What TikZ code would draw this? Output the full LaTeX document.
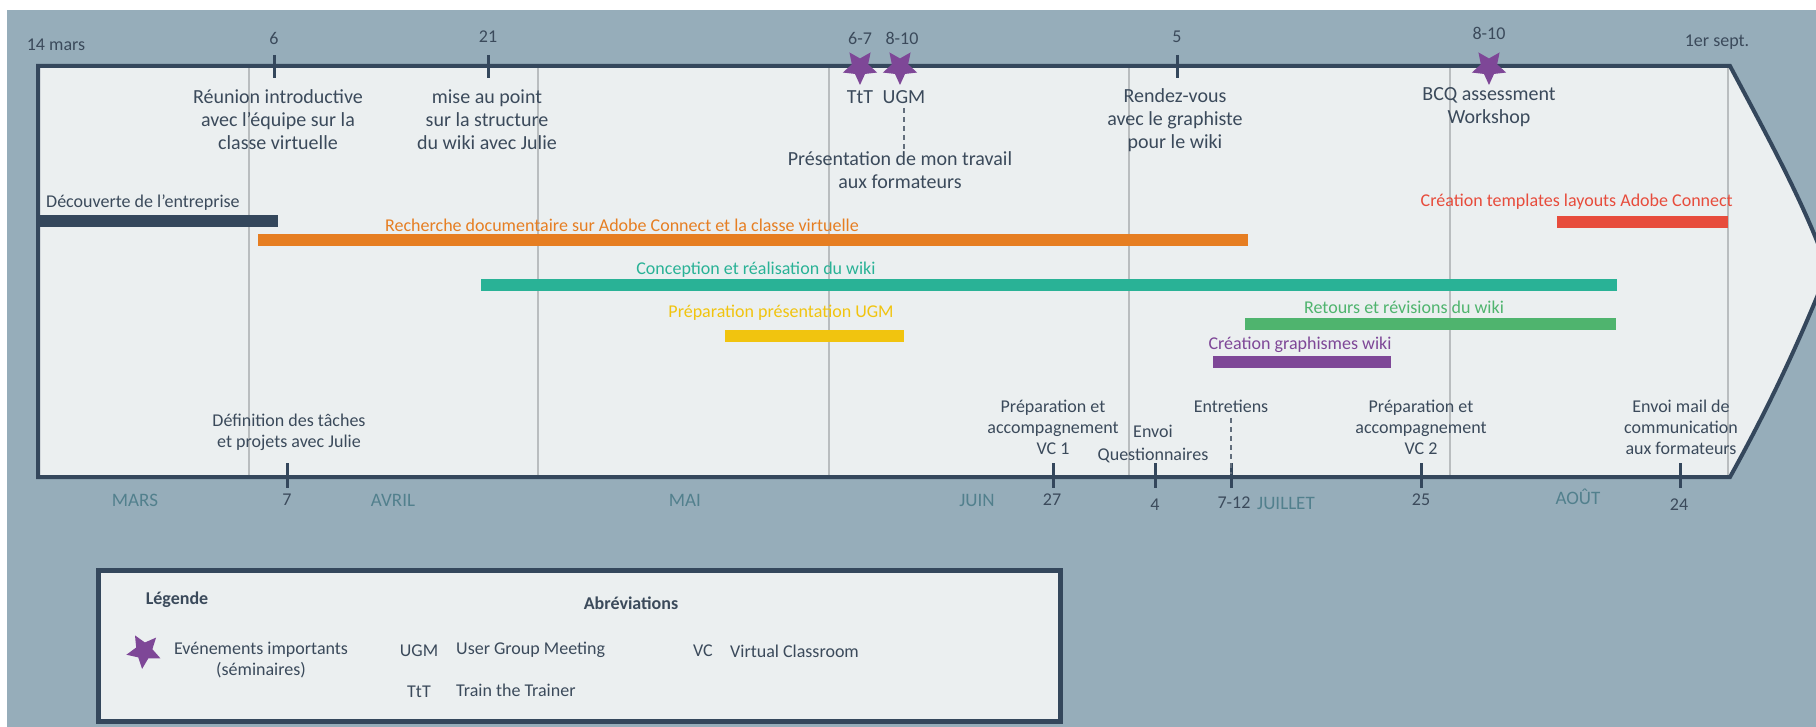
\documentclass[tikz,border=0pt]{standalone}
\usepackage{fontspec}
\setmainfont{Carlito}
\usetikzlibrary{shapes.geometric}
\definecolor{bgc}{HTML}{96ADBA}
\definecolor{panelc}{HTML}{EBEFF0}
\definecolor{navy}{HTML}{34475C}
\definecolor{txt}{HTML}{3B4A5B}
\definecolor{divc}{HTML}{B9BDBF}
\definecolor{monthc}{HTML}{52808D}
\definecolor{orangec}{HTML}{E67E22}
\definecolor{tealc}{HTML}{29B296}
\definecolor{yellowc}{HTML}{F1C40F}
\definecolor{greenc}{HTML}{4FB46E}
\definecolor{purplec}{HTML}{7E4797}
\definecolor{redc}{HTML}{E74C3C}
\begin{document}
\begin{tikzpicture}[x=1pt,y=-1pt,
 toplbl/.style={text=txt, font=\fontsize{20}{23}\selectfont, align=center, inner sep=0pt},
 barlbl/.style={font=\fontsize{18}{21}\selectfont, inner sep=0pt},
 botlbl/.style={text=txt, font=\fontsize{18}{21}\selectfont, align=center, inner sep=0pt},
 numlbl/.style={text=txt, font=\fontsize{18}{21}\selectfont, inner sep=0pt},
 monthlbl/.style={text=monthc, font=\fontsize{19}{21}\selectfont, inner sep=0pt},
 legtitle/.style={text=txt, font=\fontsize{18}{21}\selectfont\bfseries, inner sep=0pt},
 ganttbar/.style={line width=12pt},
 divline/.style={draw=divc, line width=2pt},
 tickmark/.style={draw=navy, line width=3pt},
 event/.style={star, star points=5, star point ratio=2.1, shape border rotate=180, fill=purplec, minimum size=36pt, inner sep=0pt},
 dashline/.style={draw=txt!80, line width=2pt, dash pattern=on 5pt off 4pt},
]
\useasboundingbox (0,0) rectangle (1816,727);
\fill[white] (0,0) rectangle (1816,727);
\fill[bgc] (7,10) rectangle (1816,727);

% panel
\def\panelpath{(38,66) -- (1730,66) .. controls (1772,145) and (1805,205) .. (1828,270) .. controls (1800,340) and (1770,405) .. (1730,477) -- (38,477) -- cycle}
\fill[panelc] \panelpath;
\foreach \x in {249,538,829,1129,1450,1728} \draw[divline] (\x,68) -- (\x,475);
\draw[navy, line width=4pt] \panelpath;

% top ticks
\draw[tickmark] (274,55) -- (274,78);
\draw[tickmark] (488,55) -- (488,78);
\draw[tickmark] (1177,55) -- (1177,78);

% top dates
\node[numlbl] (d14) at (56,45) {14 mars};
\node[numlbl] (d6) at (274,38) {6};
\node[numlbl] (d21) at (488,37) {21};
\node[numlbl] (d67) at (860,38) {6-7};
\node[numlbl] (d810) at (902,38) {8-10};
\node[numlbl] (d5) at (1177,37) {5};
\node[numlbl] (d810b) at (1489,33) {8-10};
\node[numlbl] (dsept) at (1717,42) {1er sept.};

% stars
\node[event] (s1) at (860,67) {};
\node[event] (s2) at (900,67) {};
\node[event] (s3) at (1489,67) {};

% top labels
\node[toplbl] (reunion) at (278,120) {Réunion introductive\\avec l’équipe sur la\\classe virtuelle};
\node[toplbl] (mise) at (487,120) {mise au point\\sur la structure\\du wiki avec Julie};
\node[toplbl] (ttt) at (860,97) {TtT};
\node[toplbl] (ugm) at (904,97) {UGM};
\node[toplbl] (pres) at (900,170) {Présentation de mon travail\\aux formateurs};
\node[toplbl] (rdv) at (1175,120) {Rendez-vous\\avec le graphiste\\pour le wiki};
\node[toplbl] (bcq) at (1489,107) {BCQ assessment\\Workshop};
\draw[dashline] (ugm.south) ++(0,4) -- (ugm.south |- pres.north);

% bars
\node[barlbl, text=txt, anchor=west] (ldec) at (46,203) {Découverte de l’entreprise};
\draw[ganttbar, navy] (38,221) -- (278,221);
\node[barlbl, text=orangec] (lrech) at (622,225) {Recherche documentaire sur Adobe Connect et la classe virtuelle};
\draw[ganttbar, orangec] (258,240) -- (1248,240);
\node[barlbl, text=tealc] (lconc) at (756,270) {Conception et réalisation du wiki};
\draw[ganttbar, tealc] (481,285) -- (1617,285);
\node[barlbl, text=yellowc] (lprep) at (781,313) {Préparation présentation UGM};
\draw[ganttbar, yellowc] (725,336) -- (904,336);
\node[barlbl, text=greenc] (lret) at (1404,307) {Retours et révisions du wiki};
\draw[ganttbar, greenc] (1245,324) -- (1616,324);
\node[barlbl, text=purplec] (lgra) at (1300,345) {Création graphismes wiki};
\draw[ganttbar, purplec] (1213,362) -- (1391,362);
\node[barlbl, text=redc, anchor=east] (ltemp) at (1733,202) {Création templates layouts Adobe Connect};
\draw[ganttbar, redc] (1557,222) -- (1728,222);

% bottom ticks
\coordinate (t7) at (287,463);
\coordinate (t27) at (1053,463);
\coordinate (t4) at (1155,463);
\coordinate (t712) at (1231,463);
\coordinate (t25) at (1421,463);
\coordinate (t24) at (1680,463);
\foreach \t in {t7,t27,t4,t712,t25,t24} \draw[tickmark] (\t) -- ++(0,25);

% bottom labels
\node[botlbl] (def) at (289,432) {Définition des tâches\\et projets avec Julie};
\node[botlbl] (prep1) at (1053,427) {Préparation et\\accompagnement\\VC 1};
\node[botlbl, font=\fontsize{18}{23}\selectfont] (envoi) at (1153,444) {Envoi\\Questionnaires};
\node[botlbl] (entre) at (1231,406) {Entretiens};
\node[botlbl] (prep2) at (1421,427) {Préparation et\\accompagnement\\VC 2};
\node[botlbl] (mail) at (1681,427) {Envoi mail de\\communication\\aux formateurs};
\draw[dashline] (entre.south) ++(0,6) -- ([yshift=-11pt]t712);

% bottom numbers and months
\node[numlbl] (b7) at (287,500) {7};
\node[numlbl] (b27) at (1052,500) {27};
\node[numlbl] (b4) at (1155,505) {4};
\node[numlbl] (b712) at (1234,503) {7-12};
\node[numlbl] (b25) at (1421,500) {25};
\node[numlbl] (b24) at (1679,505) {24};
\node[monthlbl] (mars) at (135,500) {MARS};
\node[monthlbl] (avril) at (393,500) {AVRIL};
\node[monthlbl] (mai) at (685,500) {MAI};
\node[monthlbl] (juin) at (977,500) {JUIN};
\node[monthlbl] (juil) at (1286,503) {JUILLET};
\node[monthlbl] (aout) at (1578,497) {AOÛT};

% legend
\node[draw=navy, line width=5pt, fill=panelc, minimum width=962pt, minimum height=151pt, inner sep=0pt] (legend) at (579,645.5) {};
\node[legtitle] (leg) at (177,600) {Légende};
\node[legtitle] (abr) at (631,603) {Abréviations};
\node[event, shape border rotate=174] (ls) at (144,651) {};
\node[botlbl] (evt) at (261,660) {Evénements importants\\(séminaires)};
\node[botlbl] (kugm) at (419,651) {UGM};
\node[botlbl, anchor=west] (vugm) at (456,650) {User Group Meeting};
\node[botlbl] (kttt) at (419,692) {TtT};
\node[botlbl, anchor=west] (vttt) at (456,690) {Train the Trainer};
\node[botlbl] (kvc) at (703,651) {VC};
\node[botlbl, anchor=west] (vvc) at (730,651) {Virtual Classroom};
\end{tikzpicture}
\end{document}
